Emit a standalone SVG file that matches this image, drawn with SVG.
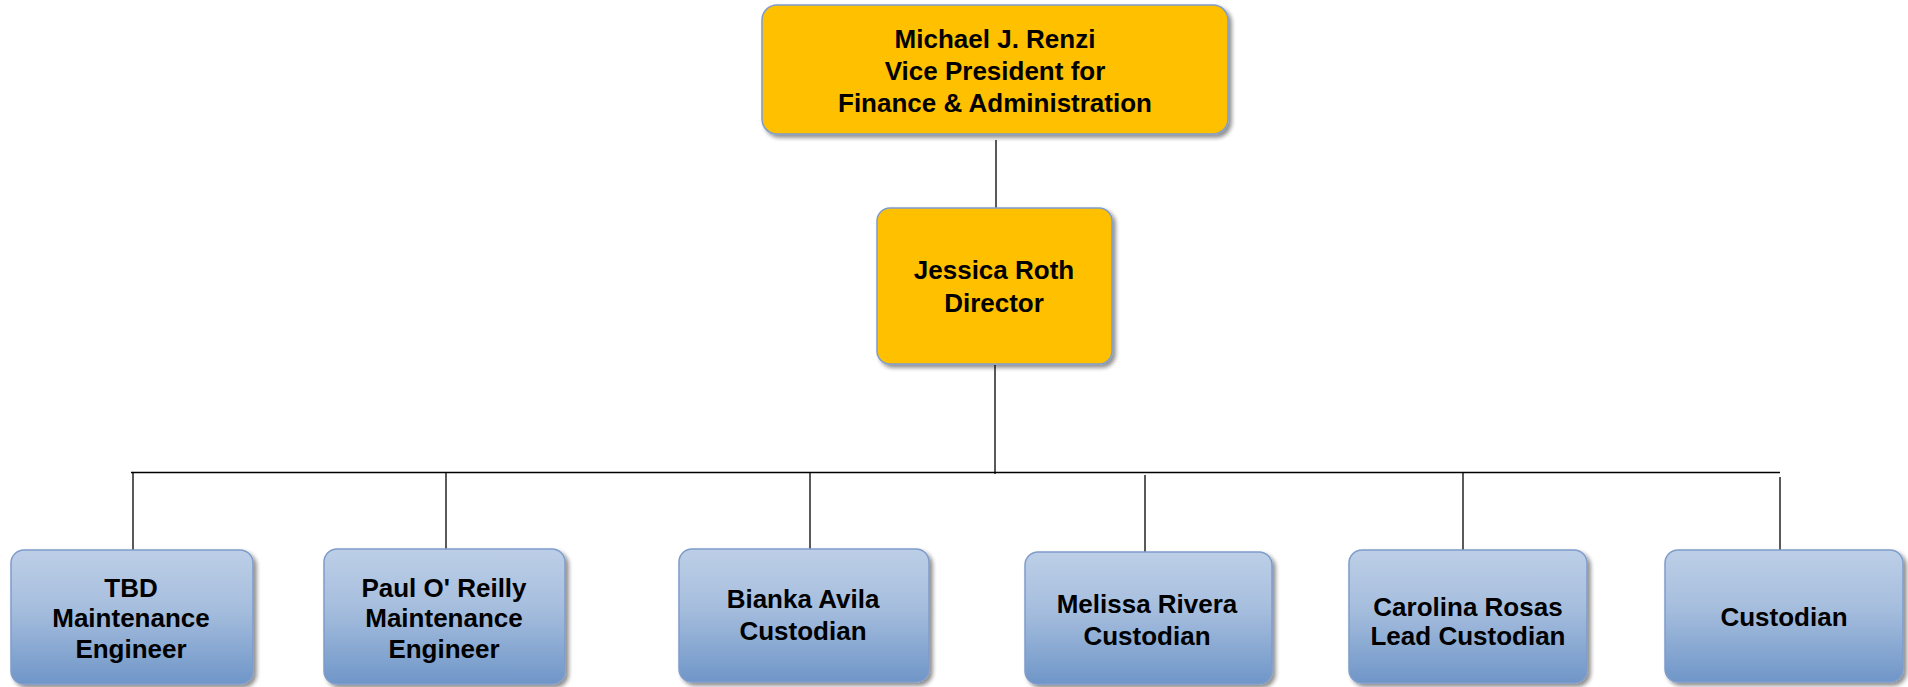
<svg xmlns="http://www.w3.org/2000/svg" width="1908" height="687" viewBox="0 0 1908 687">
<defs>
<linearGradient id="blueGrad" x1="0" y1="0" x2="0" y2="1">
<stop offset="0" stop-color="#BDCFE7"/>
<stop offset="0.45" stop-color="#A5BDDD"/>
<stop offset="1" stop-color="#6F96C8"/>
</linearGradient>
<filter id="shadow" x="-5%" y="-5%" width="115%" height="120%">
<feGaussianBlur in="SourceAlpha" stdDeviation="2"/>
<feOffset dx="3" dy="3" result="b"/>
<feComponentTransfer><feFuncA type="linear" slope="0.45"/></feComponentTransfer>
<feMerge><feMergeNode/><feMergeNode in="SourceGraphic"/></feMerge>
</filter>
</defs>
<style>
.gold{fill:#FFC000;stroke:#7F9CCB;stroke-width:1.5;filter:url(#shadow)}
.blue{fill:url(#blueGrad);stroke:#7F9CCB;stroke-width:1.5;filter:url(#shadow)}
.t{font-family:"Liberation Sans",Arial,sans-serif;font-weight:bold;font-size:26px;fill:#000;text-anchor:middle}
.c{stroke:#000;stroke-width:1.3;fill:none}
</style>
<rect width="1908" height="687" fill="#fff"/>
<g id="connectors">
<line class="c" x1="996" y1="140" x2="996" y2="208"/>
<line class="c" x1="995" y1="365" x2="995" y2="474"/>
<line class="c" x1="131" y1="472.5" x2="1780" y2="472.5"/>
<line class="c" x1="133" y1="472" x2="133" y2="550"/>
<line class="c" x1="446" y1="472" x2="446" y2="549"/>
<line class="c" x1="810" y1="472" x2="810" y2="553"/>
<line class="c" x1="1145" y1="475" x2="1145" y2="558"/>
<line class="c" x1="1463" y1="473" x2="1463" y2="552"/>
<line class="c" x1="1780" y1="477" x2="1780" y2="550"/>
</g>
<g id="vp">
<rect class="gold" x="762" y="5" width="466" height="129" rx="15"/>
<text class="t" x="995" y="48">Michael J. Renzi</text>
<text class="t" x="995" y="80">Vice President for</text>
<text class="t" x="995" y="112">Finance &amp; Administration</text>
</g>
<g id="director">
<rect class="gold" x="877" y="208" width="235" height="156" rx="13"/>
<text class="t" x="994" y="279">Jessica Roth</text>
<text class="t" x="994" y="312">Director</text>
</g>
<g id="tbd">
<rect class="blue" x="11" y="550" width="242" height="134" rx="13"/>
<text class="t" x="131" y="597">TBD</text>
<text class="t" x="131" y="627">Maintenance</text>
<text class="t" x="131" y="658">Engineer</text>
</g>
<g id="paul">
<rect class="blue" x="324" y="549" width="241" height="135" rx="13"/>
<text class="t" x="444" y="597">Paul O' Reilly</text>
<text class="t" x="444" y="627">Maintenance</text>
<text class="t" x="444" y="658">Engineer</text>
</g>
<g id="bianka">
<rect class="blue" x="679" y="549" width="250" height="133" rx="13"/>
<text class="t" x="803" y="608">Bianka Avila</text>
<text class="t" x="803" y="640">Custodian</text>
</g>
<g id="melissa">
<rect class="blue" x="1025" y="552" width="247" height="132" rx="13"/>
<text class="t" x="1147" y="613">Melissa Rivera</text>
<text class="t" x="1147" y="645">Custodian</text>
</g>
<g id="carolina">
<rect class="blue" x="1349" y="550" width="238" height="133" rx="13"/>
<text class="t" x="1468" y="616">Carolina Rosas</text>
<text class="t" x="1468" y="645">Lead Custodian</text>
</g>
<g id="custodian">
<rect class="blue" x="1665" y="550" width="238" height="132" rx="13"/>
<text class="t" x="1784" y="626">Custodian</text>
</g>
</svg>
